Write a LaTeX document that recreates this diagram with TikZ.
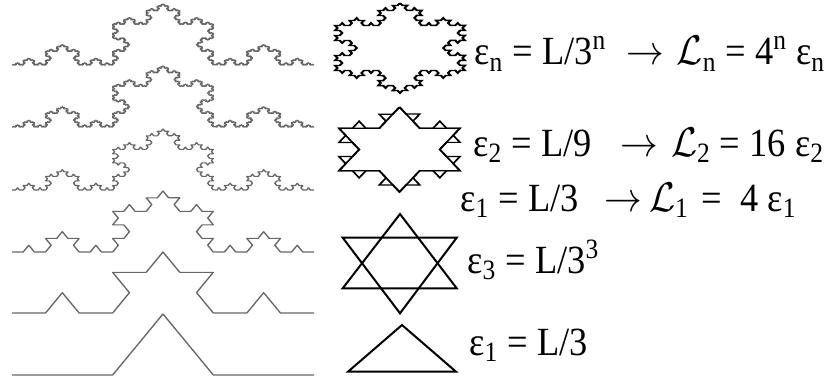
\documentclass[tikz,border=0pt]{standalone}
\usepackage{fontspec}
\setmainfont{Liberation Serif}
\usetikzlibrary{decorations.fractals}

\tikzset{
  koch/.style={decoration=Koch snowflake},
  curveline/.style={draw=black!60, line width=0.75pt, line join=round},
  flakeline/.style={draw=black, line width=1pt, line join=miter},
  formula/.style={anchor=base west, inner sep=0pt, xscale=0.91, transform shape,
                  font=\fontsize{20}{24}\selectfont},
}

\begin{document}
\begin{tikzpicture}[x=0.5pt, y=0.5pt]
    \useasboundingbox (0,0) rectangle (834,381);

    % Koch curve, iterations 1 to 6 from bottom to top
    \begin{scope}[transform canvas={cm={1,0,0,0.7,(0,6)}}]
        \draw[curveline, koch] decorate{(12,0) -- (314,0)};
    \end{scope}
    \begin{scope}[transform canvas={cm={1,0,0,0.7,(0,68)}}]
        \draw[curveline, koch] decorate{decorate{(12,0) -- (314,0)}};
    \end{scope}
    \begin{scope}[transform canvas={cm={1,0,0,0.7,(0,129)}}]
        \draw[curveline, koch] decorate{decorate{decorate{(12,0) -- (314,0)}}};
    \end{scope}
    \begin{scope}[transform canvas={cm={1,0,0,0.7,(0,191)}}]
        \draw[curveline, koch] decorate{decorate{decorate{decorate{(12,0) -- (314,0)}}}};
    \end{scope}
    \begin{scope}[transform canvas={cm={1,0,0,0.7,(0,254)}}]
        \draw[curveline, koch] decorate{decorate{decorate{decorate{decorate{(12,0) -- (314,0)}}}}};
    \end{scope}
    \begin{scope}[transform canvas={cm={1,0,0,0.7,(0,316)}}]
        \draw[curveline, koch] decorate{decorate{decorate{decorate{decorate{decorate{(12,0) -- (314,0)}}}}}};
    \end{scope}

    % snowflakes
    \begin{scope}[transform canvas={cm={1,0,0,0.6,(400,333)}}]
        \draw[flakeline, line width=1.2pt, koch] decorate{decorate{decorate{(0,75.06) -- (65,-37.53) -- (-65,-37.53) -- cycle}}};
    \end{scope}
    \begin{scope}[transform canvas={cm={1,0,0,0.608,(399.5,231.5)}}]
        \draw[flakeline, koch] decorate{(0,69.86) -- (60.5,-34.93) -- (-60.5,-34.93) -- cycle};
        \draw[flakeline, koch] decorate{decorate{(0,69.86) -- (60.5,-34.93) -- (-60.5,-34.93) -- cycle}};
    \end{scope}
    \draw[flakeline] (342.7,92.7) -- (456.7,92.7) -- (400,167) -- cycle;
    \draw[flakeline] (342.7,143.3) -- (456.7,143.3) -- (400,67.7) -- cycle;
    \draw[flakeline] (348,9.3) -- (456,9.3) -- (402,56) -- cycle;

    % formulas
    \node[formula] (epsn) at (474,316)
        {ε\textsubscript{n} = L/3\textsuperscript{n}\hspace{11pt}$\rightarrow$\hspace{7pt}$\mathcal{L}$\textsubscript{n} = 4\textsuperscript{n} ε\textsubscript{n}};
    \node[formula] (epstwo) at (473,224.3)
        {ε\textsubscript{2} = L/9\hspace{16pt}$\rightarrow$\hspace{7pt}$\mathcal{L}$\textsubscript{2} = 16 ε\textsubscript{2}};
    \node[formula] (epsone) at (460,169.3)
        {ε\textsubscript{1} = L/3\hspace{14pt}$\rightarrow$\hspace{4pt}$\mathcal{L}$\textsubscript{1}\hspace{2pt} =\hspace{10pt}4 ε\textsubscript{1}};
    \node[formula] (epsthree) at (467,107.7)
        {ε\textsubscript{3} = L/3\textsuperscript{3}};
    \node[formula] (epsbase) at (469,26)
        {ε\textsubscript{1} = L/3};
\end{tikzpicture}
\end{document}
